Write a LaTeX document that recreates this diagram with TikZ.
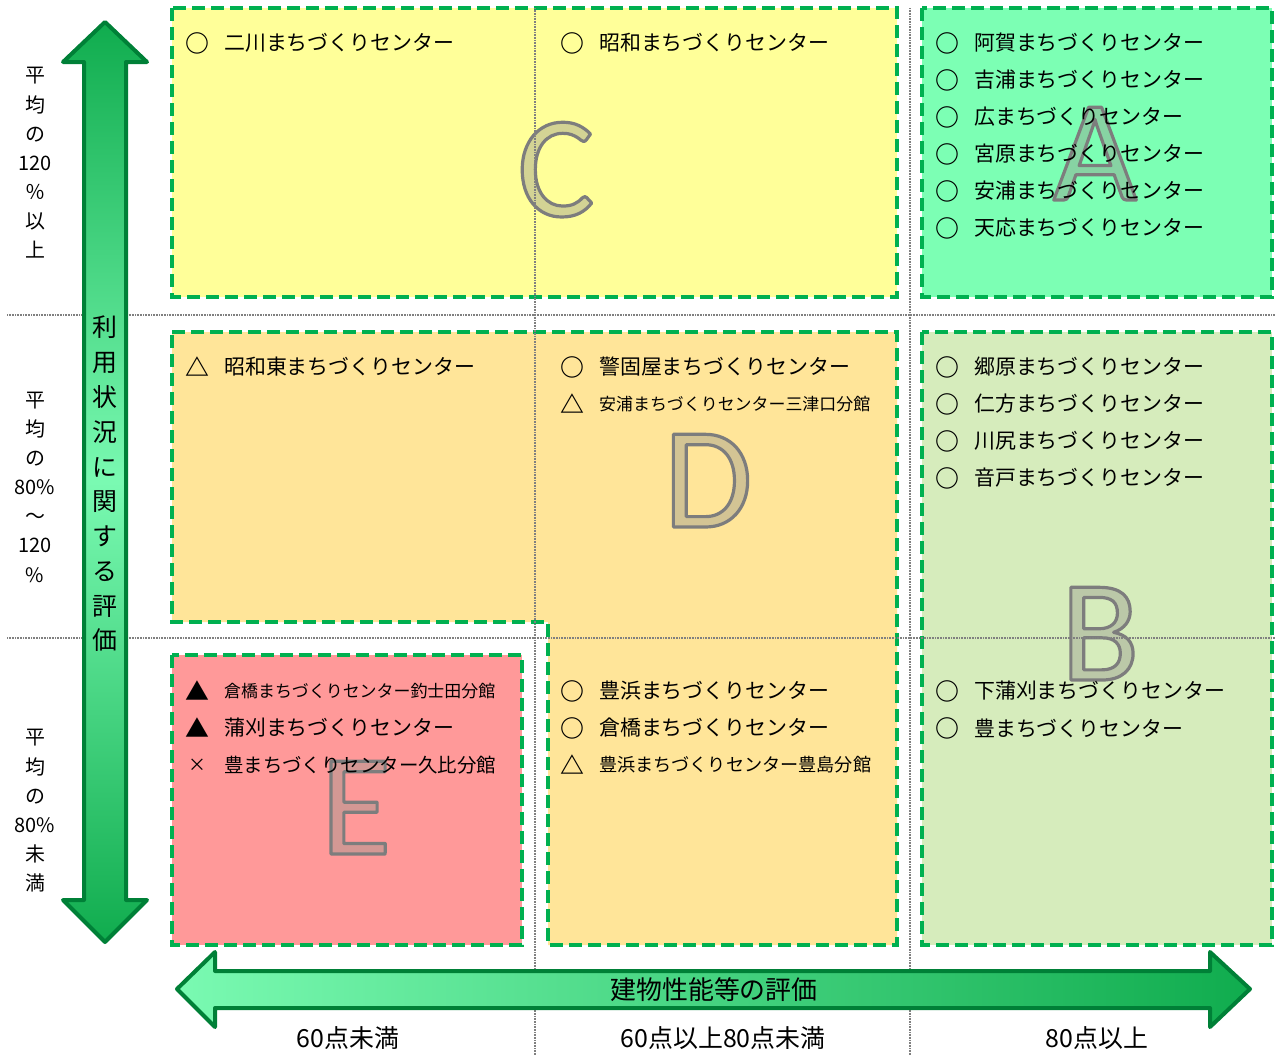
\documentclass[tikz,border=0pt]{standalone}
\usepackage{fontspec}
\setmainfont{Noto Sans CJK JP}
\newfontfamily\letterfont{Carlito}
\definecolor{dashgreen}{RGB}{0,176,80}
\definecolor{cC}{RGB}{255,255,153}
\definecolor{cA}{RGB}{124,255,180}
\definecolor{cD}{RGB}{255,229,153}
\definecolor{cB}{RGB}{214,236,188}
\definecolor{cE}{RGB}{255,153,153}
\definecolor{lgray}{RGB}{150,150,140}
\definecolor{arrdark}{RGB}{0,128,55}
\definecolor{arrend}{RGB}{16,172,78}
\definecolor{arrlight}{RGB}{122,250,178}
\newcommand{\outl}[1]{\special{pdf:literal direct 0.49 0.49 0.49 RG 3.2 w 1 j 2 Tr}#1\special{pdf:literal direct 0 Tr}}
\begin{document}
\begin{tikzpicture}[x=1bp,y=-1bp,
  region/.style={draw=dashgreen,line width=3.5bp,dash pattern=on 13bp off 6bp},
  gridline/.style={draw=gray,line width=1.6bp,dash pattern=on 1bp off 0.6bp},
  item/.style={anchor=west,inner sep=0pt,font=\fontsize{21}{21}\selectfont},
  smallitem/.style={anchor=west,inner sep=0pt,font=\fontsize{17}{17}\selectfont},
  mk/.style={anchor=center,inner sep=0pt,font=\bfseries\fontsize{24}{24}\selectfont},
  bigl/.style={anchor=base,inner sep=0pt,font=\letterfont\fontsize{145}{145}\selectfont},
  side/.style={align=center,inner sep=0pt,font=\fontsize{20}{29.3}\selectfont},
  axis/.style={inner sep=0pt,font=\fontsize{25}{25}\selectfont},
  arrowshape/.style={draw=arrdark,line width=4bp,line join=round}]
\useasboundingbox (0,0) rectangle (1279,1055);
% regions
\path[region,fill=cC] (172,8) rectangle (897,297);
\path[region,fill=cA] (922,8) rectangle (1272,297);
\path[region,fill=cD] (172,332) -- (897,332) -- (897,945) -- (548,945) -- (548,622) -- (172,622) -- cycle;
\path[region,fill=cB] (922,332) rectangle (1272,945);
\path[region,fill=cE] (172,655) rectangle (522,945);
% big letters
\node[bigl,text=cC!58!lgray] (LC) at (556,216) {\outl{C}};
\node[bigl,text=cA!58!lgray] (LA) at (1095,200) {\outl{A}};
\node[bigl,text=cD!58!lgray] (LD) at (708,527) {\outl{D}};
\node[bigl,text=cB!58!lgray] (LB) at (1100,680) {\outl{B}};
\node[bigl,text=cE!58!lgray] (LE) at (356,854) {\outl{E}};
% grid lines
\draw[gridline] (7,315) -- (1275,315);
\draw[gridline] (7,638) -- (1275,638);
\draw[gridline] (535,8) -- (535,1055);
\draw[gridline] (910,8) -- (910,1055);
% C region
\node[mk] (m1) at (197,43) {○}; \node[item] (t1) at (224,43) {二川まちづくりセンター};
\node[mk] (m2) at (572,43) {○}; \node[item] (t2) at (599,43) {昭和まちづくりセンター};
% A region
\node[mk] (m3) at (947,43) {○}; \node[item] (t3) at (974,43) {阿賀まちづくりセンター};
\node[mk] (m4) at (947,80) {○}; \node[item] (t4) at (974,80) {吉浦まちづくりセンター};
\node[mk] (m5) at (947,117) {○}; \node[item] (t5) at (974,117) {広まちづくりセンター};
\node[mk] (m6) at (947,154) {○}; \node[item] (t6) at (974,154) {宮原まちづくりセンター};
\node[mk] (m7) at (947,191) {○}; \node[item] (t7) at (974,191) {安浦まちづくりセンター};
\node[mk] (m8) at (947,228) {○}; \node[item] (t8) at (974,228) {天応まちづくりセンター};
% D region
\node[mk] (m9) at (197,367) {△}; \node[item] (t9) at (224,367) {昭和東まちづくりセンター};
\node[mk] (m10) at (572,367) {○}; \node[item] (t10) at (599,367) {警固屋まちづくりセンター};
\node[mk] (m11) at (572,404) {△}; \node[smallitem] (t11) at (599,404) {安浦まちづくりセンター三津口分館};
\node[mk] (m12) at (572,691) {○}; \node[item] (t12) at (599,691) {豊浜まちづくりセンター};
\node[mk] (m13) at (572,728) {○}; \node[item] (t13) at (599,728) {倉橋まちづくりセンター};
\node[mk] (m14) at (572,765) {△}; \node[item,font=\fontsize{18.2}{18.2}\selectfont] (t14) at (599,765) {豊浜まちづくりセンター豊島分館};
% B region
\node[mk] (m15) at (947,367) {○}; \node[item] (t15) at (974,367) {郷原まちづくりセンター};
\node[mk] (m16) at (947,404) {○}; \node[item] (t16) at (974,404) {仁方まちづくりセンター};
\node[mk] (m17) at (947,441) {○}; \node[item] (t17) at (974,441) {川尻まちづくりセンター};
\node[mk] (m18) at (947,478) {○}; \node[item] (t18) at (974,478) {音戸まちづくりセンター};
\node[mk] (m19) at (947,691) {○}; \node[item] (t19) at (974,691) {下蒲刈まちづくりセンター};
\node[mk] (m20) at (947,728) {○}; \node[item] (t20) at (974,728) {豊まちづくりセンター};
% E region
\node[mk] (m21) at (197,691) {▲}; \node[smallitem] (t21) at (224,691) {倉橋まちづくりセンター釣士田分館};
\node[mk] (m22) at (197,728) {▲}; \node[item] (t22) at (224,728) {蒲刈まちづくりセンター};
\node[mk,font=\fontsize{18}{18}\selectfont] (m23) at (197,765) {×}; \node[item,font=\fontsize{19.5}{19.5}\selectfont] (t23) at (224,765) {豊まちづくりセンター久比分館};
% vertical arrow
\path[arrowshape,top color=arrend,bottom color=arrend,middle color=arrlight]
  (105,22) -- (147,62) -- (126,62) -- (126,900) -- (147,900) -- (105,942)
  -- (63,900) -- (84,900) -- (84,62) -- (63,62) -- cycle;
\node[side,font=\fontsize{25}{34.9}\selectfont] (vlabel) at (105,484) {利\\用\\状\\況\\に\\関\\す\\る\\評\\価};
% horizontal arrow
\path[arrowshape,left color=arrlight,right color=arrend]
  (177,989) -- (215,952) -- (215,971) -- (1210,971) -- (1210,952) -- (1250,989)
  -- (1210,1027) -- (1210,1008) -- (215,1008) -- (215,1027) -- cycle;
\node[axis,font=\fontsize{26}{26}\selectfont] (hlabel) at (714,990) {建物性能等の評価};
% side labels
\node[side] (s1) at (35,163) {平\\均\\の\\120\\％\\以\\上};
\node[side] (s2) at (35,487) {平\\均\\の\\80\%\\～\\120\\\%};
\node[side] (s3) at (35,811) {平\\均\\の\\80\%\\未\\満};
% bottom labels
\node[axis] (b1) at (348,1038) {60点未満};
\node[axis] (b2) at (723,1038) {60点以上80点未満};
\node[axis] (b3) at (1097,1038) {80点以上};
\end{tikzpicture}
\end{document}
